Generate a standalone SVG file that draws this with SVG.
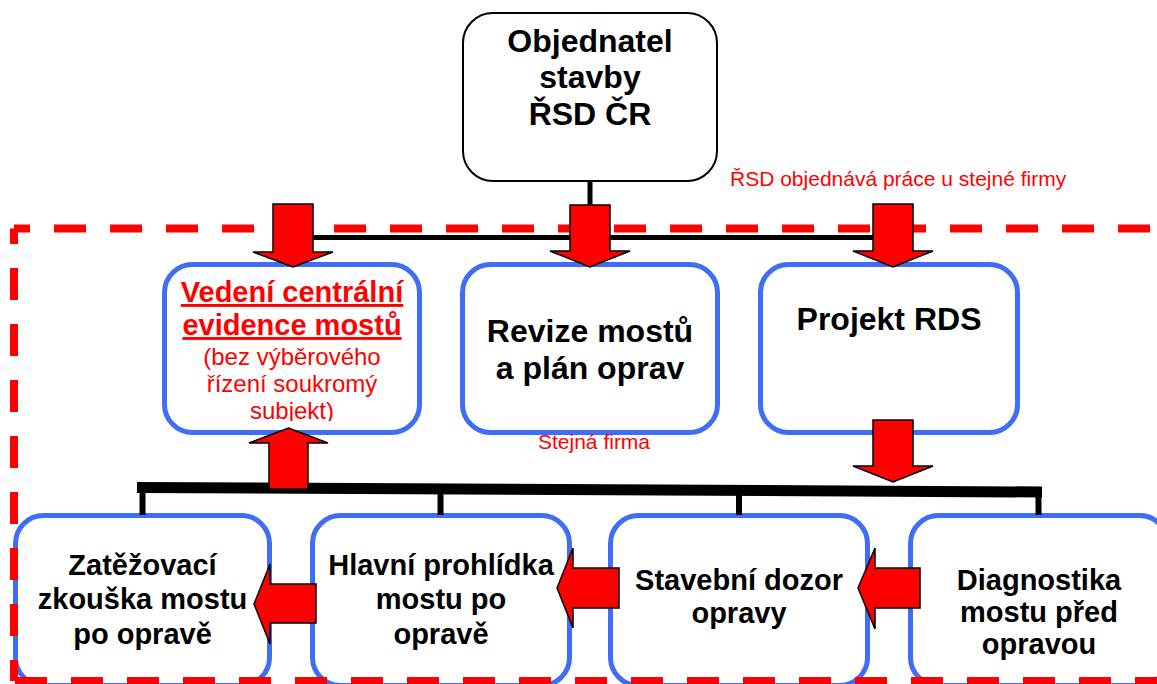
<svg xmlns="http://www.w3.org/2000/svg" width="1157" height="684" viewBox="0 0 1157 684">
<style>
.box{fill:#fff;stroke:#3F6DF5;stroke-width:5}
.top{fill:#fff;stroke:#000;stroke-width:2}
.b{font-family:"Liberation Sans",Arial,sans-serif;font-weight:bold;fill:#000;text-anchor:middle}
.r{font-family:"Liberation Sans",Arial,sans-serif;fill:#FF0000}
.arr{fill:#FF0000;stroke:#000;stroke-width:1.5;stroke-linejoin:miter}
.bus{stroke:#000;fill:none}
.dash{stroke:#FF0000;stroke-width:8;fill:none;stroke-dasharray:32 24}
</style>
<defs>
<clipPath id="clipV"><rect x="160" y="260" width="265" height="161"/></clipPath>
</defs>
<rect width="1157" height="684" fill="#fff"/>

<g id="objednatel">
<rect class="top" x="463" y="13" width="254" height="168" rx="30"/>
<text class="b" font-size="32" x="590" y="52">Objednatel</text>
<text class="b" font-size="32" x="590" y="88">stavby</text>
<text class="b" font-size="32" x="590" y="125">ŘSD ČR</text>
</g>

<g id="vedeni">
<rect class="box" x="164.5" y="264.5" width="255" height="168" rx="28"/>
<g clip-path="url(#clipV)">
<text class="r" font-size="29" font-weight="bold" text-anchor="middle" text-decoration="underline" x="292" y="302">Vedení centrální</text>
<text class="r" font-size="29" font-weight="bold" text-anchor="middle" text-decoration="underline" x="292" y="335">evidence mostů</text>
<text class="r" font-size="24" text-anchor="middle" x="292" y="365">(bez výběrového</text>
<text class="r" font-size="24" text-anchor="middle" x="292" y="392">řízení soukromý</text>
<text class="r" font-size="24" text-anchor="middle" x="292" y="419">subjekt)</text>
</g>
</g>

<g id="revize">
<rect class="box" x="462.5" y="264.5" width="255" height="168" rx="28"/>
<text class="b" font-size="32" x="590" y="342">Revize mostů</text>
<text class="b" font-size="32" x="590" y="379">a plán oprav</text>
</g>

<g id="projekt">
<rect class="box" x="760.5" y="264.5" width="257" height="168" rx="28"/>
<text class="b" font-size="32" x="889" y="330">Projekt RDS</text>
</g>

<g id="zatezovaci">
<rect class="box" x="15.5" y="515.5" width="254" height="170" rx="28"/>
<text class="b" font-size="29" x="142.5" y="575">Zatěžovací</text>
<text class="b" font-size="29" x="142.5" y="609">zkouška mostu</text>
<text class="b" font-size="29" x="142.5" y="644">po opravě</text>
</g>

<g id="hlavni">
<rect class="box" x="312.5" y="515.5" width="257" height="170" rx="28"/>
<text class="b" font-size="29" x="441" y="575">Hlavní prohlídka</text>
<text class="b" font-size="29" x="441" y="609">mostu po</text>
<text class="b" font-size="29" x="441" y="644">opravě</text>
</g>

<g id="stavebni">
<rect class="box" x="610.5" y="515.5" width="257" height="170" rx="28"/>
<text class="b" font-size="29" x="739" y="590">Stavební dozor</text>
<text class="b" font-size="29" x="739" y="623">opravy</text>
</g>

<g id="diagnostika">
<rect class="box" x="910.5" y="515.5" width="257" height="170" rx="28"/>
<text class="b" font-size="29" x="1039" y="590">Diagnostika</text>
<text class="b" font-size="29" x="1039" y="622">mostu před</text>
<text class="b" font-size="29" x="1039" y="654">opravou</text>
</g>

<g id="boundary">
<line class="dash" x1="14" y1="228.5" x2="1200" y2="228.5" stroke-dashoffset="16"/>
<line class="dash" x1="14" y1="228.5" x2="14" y2="681" stroke-dashoffset="16.5"/>
<line class="dash" x1="14" y1="681" x2="1200" y2="681" stroke-dashoffset="-1"/>
</g>

<g id="labels">
<text class="r" font-size="21" x="730" y="186">ŘSD objednává práce u stejné firmy</text>
<text class="r" font-size="21" x="538" y="449">Stejná firma</text>
</g>

<g id="connectors">
<line class="bus" x1="590" y1="181" x2="590" y2="237.5" stroke-width="5"/>
<line class="bus" x1="293" y1="237.5" x2="893" y2="237.5" stroke-width="5"/>
<line class="bus" x1="137" y1="487.5" x2="1042" y2="492" stroke-width="11"/>
<line class="bus" x1="142.5" y1="490" x2="142.5" y2="515" stroke-width="6"/>
<line class="bus" x1="440.5" y1="491" x2="440.5" y2="515" stroke-width="6"/>
<line class="bus" x1="739" y1="492" x2="739" y2="515" stroke-width="6"/>
<line class="bus" x1="1038.5" y1="494" x2="1038.5" y2="515" stroke-width="6"/>
<polygon class="arr" points="273,204 313,204 313,252 333,252 293,267 253,252 273,252"/>
<polygon class="arr" points="570,205 610,205 610,251 630,251 590,267 550,251 570,251"/>
<polygon class="arr" points="873,204 913,204 913,251 933,251 893,267 853,251 873,251"/>
<polygon class="arr" points="873,420 913,420 913,466 933,466 893,482 853,466 873,466"/>
<polygon class="arr" points="269,489 308,489 308,443 328,443 288.5,428 249,443 269,443"/>
<polygon class="arr" points="316,584 316,623 270,623 270,644 254,604 270,564 270,584"/>
<polygon class="arr" points="619,568 619,608 573,608 573,628 557,588 573,548 573,568"/>
<polygon class="arr" points="920,568 920,608 875,608 875,629 858,588 875,548 875,568"/>
</g>
</svg>
